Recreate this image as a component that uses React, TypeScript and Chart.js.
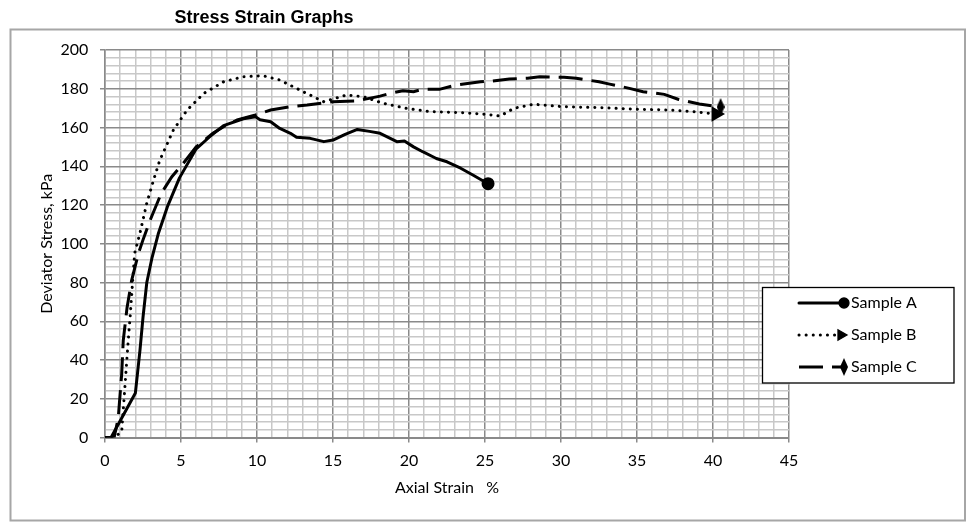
import React, { useEffect, useRef } from 'react';
import { Chart, registerables } from 'chart.js';
import { drawPoint } from 'chart.js/helpers';
Chart.register(...registerables);

const chartTitle = 'Stress Strain Graphs';
const xAxisTitle = 'Axial Strain   %';
const yAxisTitle = 'Deviator Stress, kPa';
const seriesNames = ['Sample A', 'Sample B', 'Sample C'];

const strainA = [0, 0.4, 2.0, 2.3, 2.5, 2.75, 3.1, 3.5, 4.1, 4.9, 6.0, 7.0, 7.8, 9.1, 9.9, 10.2, 10.9, 11.5, 12.2, 12.6, 13.5, 14.4, 15.0, 15.8, 16.6, 17.4, 18.1, 19.2, 19.7, 20.3, 20.9, 21.8, 22.5, 23.4, 24.2, 25.2];
const stressA = [0, 0, 23, 45, 62, 80, 93, 105, 119, 134, 149, 156, 161, 164.5, 165.5, 164, 163, 159.5, 157, 155, 154.4, 152.7, 153.5, 156.5, 159, 158, 157, 152.7, 153, 150, 147.5, 144, 142.3, 139, 135.5, 131];

const strainB = [0, 0.6, 1.1, 1.3, 1.5, 1.65, 1.95, 2.3, 2.75, 3.2, 3.6, 4.5, 5.4, 6.5, 7.8, 9.1, 10.4, 11.5, 12.8, 14.4, 15.9, 17.0, 18.3, 19.8, 21.4, 23.6, 25.1, 26.0, 26.9, 28.2, 30.2, 32.8, 35.0, 37.2, 38.7, 40.2];
const stressB = [0, 0, 3, 25, 47, 62, 95, 105.5, 121, 133, 143, 158.7, 169, 177.6, 183.6, 186.2, 186.7, 184.5, 179.4, 173.3, 176.8, 175.9, 172.5, 169.9, 168.2, 167.6, 166.8, 165.9, 169.9, 172, 170.7, 170.2, 169.4, 169, 168.2, 167];

const strainC = [0, 0.6, 0.87, 1.1, 1.2, 1.45, 1.75, 2.2, 2.5, 2.96, 3.7, 4.4, 5.15, 6.0, 7.1, 7.8, 8.7, 9.9, 10.9, 12.2, 13.3, 15.0, 16.6, 18.1, 18.75, 19.6, 20.3, 20.9, 22.0, 23.1, 24.7, 25.5, 26.6, 27.8, 28.6, 30.2, 31.0, 32.5, 33.2, 34.5, 35.4, 36.8, 37.7, 39.1, 40.5];
const stressC = [0, 0, 10, 33, 50, 67, 81, 95, 102, 112, 126, 134.6, 141.5, 150, 157, 160.4, 163.9, 166.5, 169, 170.7, 171.6, 173.3, 173.8, 176.2, 177.6, 179, 178.5, 179.7, 179.7, 181.9, 183.6, 184, 185, 185.4, 186.2, 185.9, 185.4, 183.6, 182.4, 180.2, 178.5, 177.1, 174.6, 172.1, 170.6];

const xMin = 0, xMax = 45, xMinorStep = 1, xMajorStep = 5;
const yMin = 0, yMax = 200, yMinorStep = 4, yMajorStep = 20;

const FONT = "Lato, 'Open Sans', sans-serif";
const MAJOR = '#8a8a8a';
const MINOR = '#c8c8c8';

function pts(xs: number[], ys: number[]) {
  return xs.map((x, i) => ({ x, y: ys[i] }));
}

export default function App() {
  const ref = useRef<HTMLCanvasElement>(null);
  useEffect(() => {
    const canvas = ref.current!;
    const dia = document.createElement('canvas');
    dia.width = 8; dia.height = 18;
    const dc = dia.getContext('2d')!;
    dc.fillStyle = '#000';
    dc.beginPath(); dc.moveTo(4, 0); dc.lineTo(8, 9); dc.lineTo(4, 18); dc.lineTo(0, 9); dc.closePath(); dc.fill();

    const lastOnly = (r: number) => (ctx: any) => ctx.dataIndex === ctx.dataset.data.length - 1 ? r : 0;

    const frame = {
      id: 'frame',
      beforeDraw(chart: any) {
        const c = chart.ctx;
        c.save();
        c.fillStyle = '#fff';
        c.fillRect(0, 0, chart.width, chart.height);
        c.strokeStyle = '#a6a6a6';
        c.lineWidth = 2;
        c.strokeRect(10.5, 29.5, 954.5, 491);
        c.fillStyle = '#000';
        c.font = "bold 18px 'Liberation Sans', Arial, sans-serif";
        c.textAlign = 'center';
        c.textBaseline = 'alphabetic';
        c.fillText(chartTitle, 264, 23);
        c.restore();
      },
      afterDraw(chart: any) {
        const c = chart.ctx;
        c.save();
        c.fillStyle = '#fff';
        c.fillRect(762, 287, 192, 96);
        c.strokeStyle = '#000';
        c.lineWidth = 1.3;
        c.strokeRect(762.5, 287.5, 191.5, 95.5);
        const rows = [303, 335, 367];
        chart.data.datasets.forEach((ds: any, i: number) => {
          const y = rows[i];
          c.save();
          c.strokeStyle = '#000';
          c.lineWidth = ds.borderWidth;
          c.lineCap = ds.borderCapStyle || 'butt';
          c.setLineDash(ds.borderDash || []);
          c.beginPath();
          c.moveTo(799, y);
          c.lineTo(i === 1 ? 836 : 843, y);
          c.stroke();
          c.restore();
          c.fillStyle = '#000';
          c.strokeStyle = '#000';
          drawPoint(c, { pointStyle: ds.pointStyle, radius: ds.legendRadius, rotation: ds.pointRotation || 0, borderWidth: 1 }, i === 1 ? 841 : 844, y);
          c.fillStyle = '#000';
          c.font = `16px ${FONT}`;
          c.textAlign = 'left';
          c.textBaseline = 'middle';
          c.fillText(ds.label, 851, y);
        });
        c.restore();
      },
    };

    const chart = new Chart(canvas, {
      type: 'scatter',
      data: {
        datasets: [
          {
            label: seriesNames[0],
            data: pts(strainA, stressA),
            showLine: true,
            borderColor: '#000',
            backgroundColor: '#000',
            borderWidth: 3,
            borderCapStyle: 'round',
            borderJoinStyle: 'round',
            pointStyle: 'circle',
            pointRadius: lastOnly(5),
            legendRadius: 5,
            pointBackgroundColor: '#000',
            pointBorderColor: '#000',
          } as any,
          {
            label: seriesNames[1],
            data: pts(strainB, stressB),
            showLine: true,
            borderColor: '#000',
            backgroundColor: '#000',
            borderWidth: 3,
            borderDash: [0.1, 7],
            borderCapStyle: 'round',
            pointStyle: 'triangle',
            pointRotation: 90,
            pointRadius: lastOnly(6),
            legendRadius: 6,
            pointBackgroundColor: '#000',
            pointBorderColor: '#000',
          } as any,
          {
            label: seriesNames[2],
            data: pts(strainC, stressC),
            showLine: true,
            borderColor: '#000',
            backgroundColor: '#000',
            borderWidth: 3,
            borderDash: [24, 9],
            borderCapStyle: 'butt',
            pointStyle: dia,
            pointRadius: lastOnly(6),
            legendRadius: 6,
            pointBackgroundColor: '#000',
            pointBorderColor: '#000',
          } as any,
        ],
      },
      options: {
        animation: false,
        responsive: false,
        events: [],
        layout: { padding: { left: 37.4, right: 178, top: 50, bottom: 26.4 } },
        plugins: { legend: { display: false }, title: { display: false }, tooltip: { enabled: false } },
        scales: {
          x: {
            type: 'linear',
            min: xMin,
            max: xMax,
            afterBuildTicks: (s: any) => {
              const t = [];
              for (let v = xMin; v <= xMax; v += xMinorStep) t.push({ value: v });
              s.ticks = t;
            },
            afterFit: (s: any) => { s.height = 524 - 26.4 - 437.5; },
            ticks: {
              autoSkip: false,
              maxRotation: 0,
              padding: 8.7,
              color: '#000',
              font: { family: FONT, size: 16 },
              callback: (v: any) => (v % xMajorStep === 0 ? String(v) : ''),
            },
            grid: {
              color: (ctx: any) => (ctx.tick && ctx.tick.value % xMajorStep === 0 ? MAJOR : MINOR),
              lineWidth: 1.5,
              tickLength: 5,
              tickColor: (ctx: any) => (ctx.tick && ctx.tick.value % xMajorStep === 0 ? MAJOR : 'transparent'),
            },
            border: { color: MAJOR, width: 2 },
            title: { display: true, text: xAxisTitle, color: '#000', font: { family: FONT, size: 16 }, padding: 0 },
          },
          y: {
            type: 'linear',
            min: yMin,
            max: yMax,
            afterBuildTicks: (s: any) => {
              const t = [];
              for (let v = yMin; v <= yMax; v += yMinorStep) t.push({ value: v });
              s.ticks = t;
            },
            afterFit: (s: any) => { s.width = 105 - 37.4; },
            ticks: {
              autoSkip: false,
              padding: 11.7,
              color: '#000',
              font: { family: FONT, size: 16 },
              callback: (v: any) => (v % yMajorStep === 0 ? String(v) : ''),
            },
            grid: {
              color: (ctx: any) => (ctx.tick && ctx.tick.value % yMajorStep === 0 ? MAJOR : MINOR),
              lineWidth: 1.5,
              tickLength: 5,
              tickColor: (ctx: any) => (ctx.tick && ctx.tick.value % yMajorStep === 0 ? MAJOR : 'transparent'),
            },
            border: { color: MAJOR, width: 1.5 },
            title: { display: true, text: yAxisTitle, color: '#000', font: { family: FONT, size: 16 }, padding: 0 },
          },
        },
      } as any,
      plugins: [frame],
    });
    return () => chart.destroy();
  }, []);
  return (
    <div style={{ position: 'absolute', left: 0, top: 0, width: 967, height: 524 }}>
      <canvas ref={ref} width={967} height={524} style={{ display: 'block', width: 967, height: 524 }} />
    </div>
  );
}
